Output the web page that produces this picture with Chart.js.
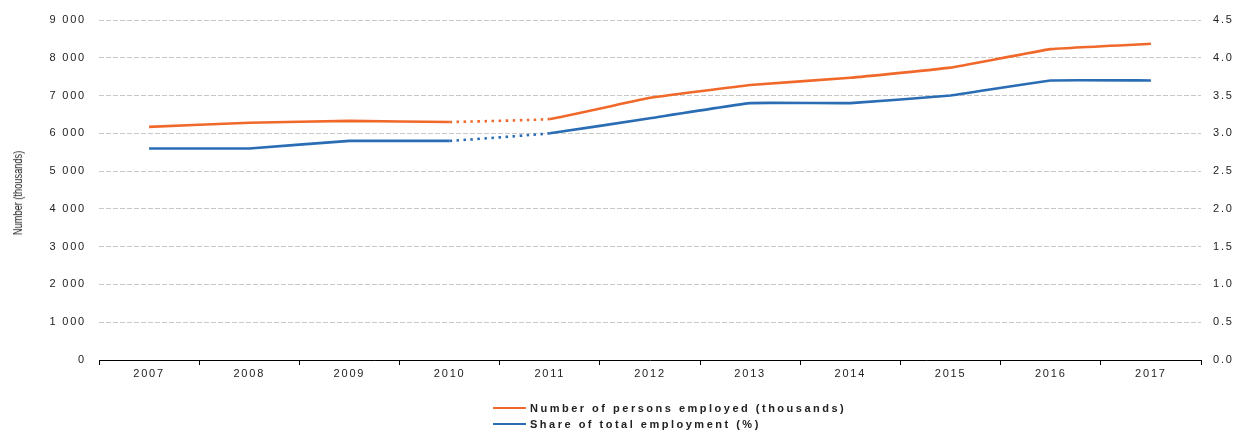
<!DOCTYPE html>
<html>
<head>
<meta charset="utf-8">
<script src="https://cdn.jsdelivr.net/npm/chart.js@4.4.1/dist/chart.umd.min.js"></script>
<style>
  html, body { margin: 0; padding: 0; background: #fff; }
  #wrap { position: relative; width: 1237px; height: 430px; }
  #chart { position: absolute; left: 0; top: 0; }
  #legend {
    position: absolute; left: 493px; top: 400px;
    font-family: "Liberation Sans", Arial, sans-serif; font-weight: bold;
    font-size: 11px; letter-spacing: 2.5px; color: #222;
  }
  #legend .item { display: flex; align-items: center; height: 16px; }
  #legend .swatch { width: 33px; height: 2.5px; margin-right: 4px; }
  #ytitle {
    position: absolute; left: 18px; top: 193px; white-space: nowrap;
    font-family: "Liberation Sans", Arial, sans-serif; font-size: 12.5px; color: #222;
    transform: translate(-50%, -50%) rotate(-90deg) scaleX(0.74);
  }
</style>
</head>
<body>
<div id="wrap">
  <canvas id="chart" width="1237" height="430"></canvas>
  <div id="ytitle"></div>
  <div id="legend"></div>
</div>
<script>
// Employment data, 2007-2017
const years = ['2007', '2008', '2009', '2010', '2011', '2012', '2013', '2014', '2015', '2016', '2017'];
const personsEmployed = [6170, 6280, 6330, 6300, 6380, 6940, 7280, 7470, 7740, 8230, 8370];
const shareOfEmployment = [2.8, 2.8, 2.9, 2.9, 3.0, 3.2, 3.4, 3.4, 3.5, 3.7, 3.7];
const seriesNames = ['Number of persons employed (thousands)', 'Share of total employment (%)'];
const leftAxisTitle = 'Number (thousands)';
const leftTicks = [0, 1000, 2000, 3000, 4000, 5000, 6000, 7000, 8000, 9000];
const rightTicks = [0, 0.5, 1.0, 1.5, 2.0, 2.5, 3.0, 3.5, 4.0, 4.5];
const breakAfter = '2010'; // series break: segment to the next year is dotted

const ORANGE = '#F0692B';
const BLUE = '#2A6DB4';
const breakIndex = years.indexOf(breakAfter);

const tickFont = { family: '"Liberation Sans", Arial, sans-serif', size: 11 };

// wide letter spacing on all canvas text
const spacing = {
  id: 'spacing',
  beforeLayout(chart) { chart.ctx.letterSpacing = '1.8px'; },
  beforeDraw(chart) { chart.ctx.letterSpacing = '1.8px'; }
};

const dotted = ctx => (ctx.p0DataIndex === breakIndex ? [2.5, 4.5] : undefined);

const chart = new Chart(document.getElementById('chart'), {
  type: 'line',
  data: {
    labels: years,
    datasets: [
      {
        label: seriesNames[0],
        data: personsEmployed,
        yAxisID: 'y',
        borderColor: ORANGE,
        backgroundColor: ORANGE,
        borderWidth: 2.6,
        pointRadius: 0,
        tension: 0.08,
        segment: { borderDash: dotted }
      },
      {
        label: seriesNames[1],
        data: shareOfEmployment,
        yAxisID: 'y1',
        borderColor: BLUE,
        backgroundColor: BLUE,
        borderWidth: 2.6,
        pointRadius: 0,
        tension: 0.08,
        segment: { borderDash: dotted }
      }
    ]
  },
  options: {
    responsive: false,
    animation: false,
    layout: { padding: { top: 20, left: 0, right: 0, bottom: 0 } },
    plugins: { legend: { display: false }, tooltip: { enabled: false } },
    scales: {
      x: {
        offset: true,
        grid: { offset: true, drawOnChartArea: false, drawTicks: true, tickLength: 5, color: '#000', lineWidth: 1 },
        border: { display: true, color: '#000', width: 1 },
        ticks: { font: tickFont, color: '#222', padding: 2, maxRotation: 0 },
        afterFit(scale) { scale.height = 70; }
      },
      y: {
        position: 'left',
        min: leftTicks[0],
        max: leftTicks[leftTicks.length - 1],
        afterBuildTicks(scale) { scale.ticks = leftTicks.map(v => ({ value: v })); },
        grid: { color: '#c8c8c8', lineWidth: 1, drawTicks: false },
        border: { display: false, dash: [5, 2] },
        ticks: {
          font: tickFont, color: '#222', padding: 13,
          callback: v => v.toLocaleString('en-US').replace(/,/g, ' ')
        },
        afterFit(scale) { scale.width = 99; }
      },
      y1: {
        position: 'right',
        min: rightTicks[0],
        max: rightTicks[rightTicks.length - 1],
        afterBuildTicks(scale) { scale.ticks = rightTicks.map(v => ({ value: v })); },
        grid: { display: false, drawTicks: false },
        border: { display: false },
        ticks: { font: tickFont, color: '#222', padding: 12, callback: v => v.toFixed(1) },
        afterFit(scale) { scale.width = 36; }
      }
    }
  },
  plugins: [spacing]
});

// condensed vertical title for the left axis
document.getElementById('ytitle').textContent = leftAxisTitle;

// legend, one row per series
const legend = document.getElementById('legend');
chart.data.datasets.forEach(ds => {
  const item = document.createElement('div');
  item.className = 'item';
  const sw = document.createElement('span');
  sw.className = 'swatch';
  sw.style.background = ds.borderColor;
  const tx = document.createElement('span');
  tx.textContent = ds.label;
  item.appendChild(sw);
  item.appendChild(tx);
  legend.appendChild(item);
});
</script>
</body>
</html>
